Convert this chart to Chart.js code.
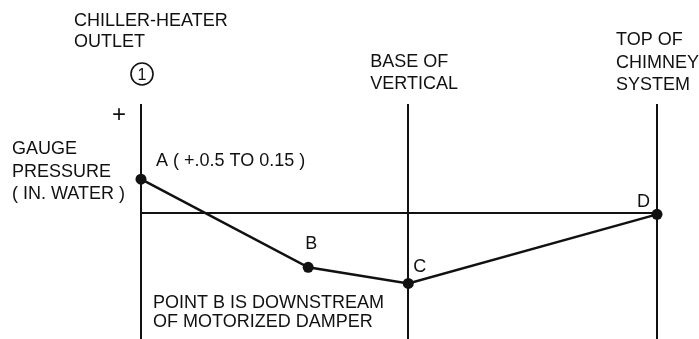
<!DOCTYPE html>
<html>
<head>
<meta charset="utf-8">
<script src="https://cdn.jsdelivr.net/npm/chart.js@4"></script>
<style>
  html, body { margin: 0; padding: 0; background: #fff; overflow: hidden; }
  #wrap { width: 699px; height: 339px; position: relative; overflow: hidden; }
  #c { display: block; }
</style>
</head>
<body>
<div id="wrap"><canvas id="c" width="699" height="345"></canvas></div>
<script>
// Point names along the flue path
const categories = ['A', 'B', 'C', 'D'];
// Relative distance along the chimney system (0 = chiller-heater outlet, 100 = top)
const distance = [0, 32.4, 51.8, 100];
// Gauge pressure, in. water
const pressure = [0.15, -0.238, -0.309, -0.005];
// Stations marked by vertical reference lines
const stations = [0, 51.8, 100];
const stationTitles = [
  ['CHILLER-HEATER', 'OUTLET'],
  ['BASE OF', 'VERTICAL'],
  ['TOP OF', 'CHIMNEY', 'SYSTEM']
];
const pointLabels = ['A ( +.0.5 TO 0.15 )', 'B', 'C', 'D'];
const yTitle = ['GAUGE', 'PRESSURE', '( IN. WATER )'];
const note = ['POINT B IS DOWNSTREAM', 'OF MOTORIZED DAMPER'];
const yTicks = [0];

const FONT = '"Liberation Sans", Arial, sans-serif';

const textPlugin = {
  id: 'annot',
  afterDraw(chart) {
    const ctx = chart.ctx;
    const xs = chart.scales.x, ys = chart.scales.y;
    ctx.save();
    ctx.fillStyle = '#111';
    ctx.font = '18px ' + FONT;
    ctx.textBaseline = 'alphabetic';
    ctx.textAlign = 'left';
    const x0 = xs.getPixelForValue(stations[0]);
    const x1 = xs.getPixelForValue(stations[1]);
    const x2 = xs.getPixelForValue(stations[2]);
    stationTitles[0].forEach((t, i) => ctx.fillText(t, x0 - 67, 26 + i * 21));
    stationTitles[1].forEach((t, i) => ctx.fillText(t, x1 - 38, 67 + i * 22));
    stationTitles[2].forEach((t, i) => ctx.fillText(t, x2 - 41, 45 + i * 22.5));
    // circled 1
    ctx.strokeStyle = '#111';
    ctx.lineWidth = 1.6;
    ctx.beginPath();
    ctx.arc(x0 + 1, 74, 11, 0, Math.PI * 2);
    ctx.stroke();
    ctx.textAlign = 'center';
    ctx.font = '16px ' + FONT;
    ctx.fillText('1', x0 + 1, 80);
    // plus sign
    ctx.font = '24px ' + FONT;
    ctx.fillText('+', x0 - 22, 122);
    // y title
    ctx.textAlign = 'left';
    ctx.font = '18px ' + FONT;
    yTitle.forEach((t, i) => ctx.fillText(t, 12, 154 + i * 22.5));
    // point labels
    const px = distance.map(v => xs.getPixelForValue(v));
    const py = pressure.map(v => ys.getPixelForValue(v));
    ctx.fillText(pointLabels[0], px[0] + 15, py[0] - 13);
    ctx.fillText(pointLabels[1], px[1] - 3, py[1] - 18);
    ctx.fillText(pointLabels[2], px[2] + 5, py[2] - 11);
    ctx.fillText(pointLabels[3], px[3] - 20, py[3] - 7);
    // note
    note.forEach((t, i) => ctx.fillText(t, x0 + 12, 308 + i * 19));
    ctx.restore();
  }
};

const chart = new Chart(document.getElementById('c'), {
  type: 'line',
  data: {
    datasets: [{
      label: 'Gauge pressure',
      data: distance.map((d, i) => ({ x: d, y: pressure[i] })),
      borderColor: '#111',
      backgroundColor: '#111',
      borderWidth: 2.5,
      pointRadius: 5.5,
      pointHoverRadius: 5.5,
      pointBackgroundColor: '#111',
      pointBorderWidth: 0,
      tension: 0,
      clip: false
    }]
  },
  options: {
    responsive: false,
    animation: false,
    layout: { padding: { left: 141, right: 42, top: 104, bottom: 0 } },
    plugins: { legend: { display: false }, tooltip: { enabled: false } },
    scales: {
      x: {
        type: 'linear', min: 0, max: 100,
        afterBuildTicks: s => { s.ticks = stations.map(v => ({ value: v })); },
        ticks: { display: false },
        border: { display: false },
        grid: { color: '#111', lineWidth: 2, drawTicks: false }
      },
      y: {
        type: 'linear', min: -0.556, max: 0.481,
        afterBuildTicks: s => { s.ticks = yTicks.map(v => ({ value: v })); },
        ticks: { display: false },
        border: { display: false },
        grid: { color: '#111', lineWidth: 2, drawTicks: false }
      }
    }
  },
  plugins: [textPlugin]
});
</script>
</body>
</html>
